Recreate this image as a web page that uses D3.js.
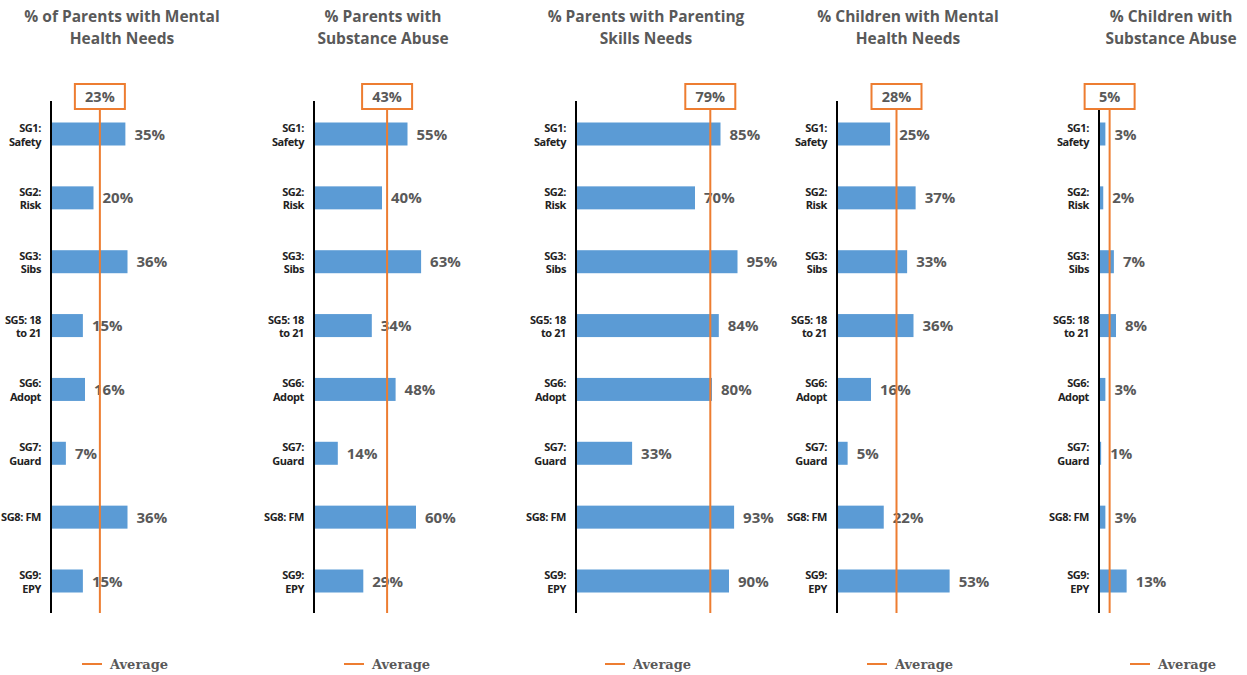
<!DOCTYPE html>
<html><head><meta charset="utf-8">
<script src="https://cdn.jsdelivr.net/npm/d3@7"></script>
<style>body{margin:0;background:#fff}svg{display:block}</style>
</head><body>
<svg id="c" width="1247" height="675"></svg>
<script>
const categories = [["SG1:","Safety"],["SG2:","Risk"],["SG3:","Sibs"],["SG5: 18","to 21"],["SG6:","Adopt"],["SG7:","Guard"],["SG8: FM"],["SG9:","EPY"]];
const titles = [["% of Parents with Mental","Health Needs"],["% Parents with","Substance Abuse"],["% Parents with Parenting","Skills Needs"],["% Children with Mental","Health Needs"],["% Children with","Substance Abuse"]];
const parentsMental = [35,20,36,15,16,7,36,15];
const parentsSubstance = [55,40,63,34,48,14,60,29];
const parentsSkills = [85,70,95,84,80,33,93,90];
const childrenMental = [25,37,33,36,16,5,22,53];
const childrenSubstance = [3,2,7,8,3,1,3,13];
const averages = [23,43,79,28,5];
const domainMax = [80,100,100,80,80];
const legendLabel = "Average";

const series = [parentsMental,parentsSubstance,parentsSkills,childrenMental,childrenSubstance];
const axisX = [51,314,576,837,1099];
const titleX = [122,383,646,908,1171];
const legendX = [82,344,605,867,1130];

const svg = d3.select("#c");
const blue = "#5B9BD5", orange = "#ED7D31", gray = "#595959";
const y = d3.scalePoint().domain(d3.range(categories.length)).range([134,581]);
const barH = 23;

series.forEach((vals,i)=>{
  const g = svg.append("g");
  const x = d3.scaleLinear().domain([0,domainMax[i]]).range([axisX[i], axisX[i]+170]);
  const t = g.append("text").attr("x",titleX[i]).attr("y",22).attr("text-anchor","middle")
    .attr("font-family","'Open Sans',sans-serif").attr("font-weight","bold").attr("font-size",15.5).attr("fill",gray);
  titles[i].forEach((l,k)=>t.append("tspan").attr("x",titleX[i]).attr("dy",k?22:0).text(l));
  g.selectAll("rect.bar").data(vals).join("rect").attr("class","bar")
    .attr("x",x(0)).attr("y",(d,j)=>y(j)-barH/2).attr("width",d=>x(d)-x(0)).attr("height",barH).attr("fill",blue);
  g.selectAll("text.val").data(vals).join("text").attr("class","val")
    .attr("x",d=>x(d)+9).attr("y",(d,j)=>y(j)+5.5)
    .attr("font-family","'Open Sans',sans-serif").attr("font-weight","bold").attr("font-size",15).attr("fill",gray)
    .text(d=>d+"%");
  categories.forEach((c,j)=>{
    const tt = g.append("text").attr("text-anchor","end")
      .attr("font-family","'Open Sans',sans-serif").attr("font-weight","bold").attr("font-size",11).attr("fill","#222")
      .attr("letter-spacing","-0.4");
    const y0 = c.length===1 ? y(j)+4 : y(j)-2;
    c.forEach((l,k)=>tt.append("tspan").attr("x",axisX[i]-10).attr("y",y0+k*13.5).text(l));
  });
  g.append("line").attr("x1",x(0)).attr("x2",x(0)).attr("y1",101).attr("y2",613).attr("stroke","#000").attr("stroke-width",2);
  const ax = x(averages[i]);
  g.append("line").attr("x1",ax).attr("x2",ax).attr("y1",109).attr("y2",613).attr("stroke",orange).attr("stroke-width",2);
  g.append("rect").attr("x",ax-25).attr("y",84).attr("width",50).attr("height",25)
    .attr("fill","#fff").attr("stroke",orange).attr("stroke-width",2);
  g.append("text").attr("x",ax).attr("y",102).attr("text-anchor","middle")
    .attr("font-family","'Open Sans',sans-serif").attr("font-weight","bold").attr("font-size",14.5).attr("fill",gray)
    .text(averages[i]+"%");
  g.append("line").attr("x1",legendX[i]).attr("x2",legendX[i]+20).attr("y1",664).attr("y2",664).attr("stroke",orange).attr("stroke-width",2);
  g.append("text").attr("x",legendX[i]+28).attr("y",669)
    .attr("font-family","'DejaVu Serif','Liberation Serif',serif").attr("font-weight","bold").attr("font-size",13).attr("fill",gray)
    .text(legendLabel);
});
</script>
</body></html>
